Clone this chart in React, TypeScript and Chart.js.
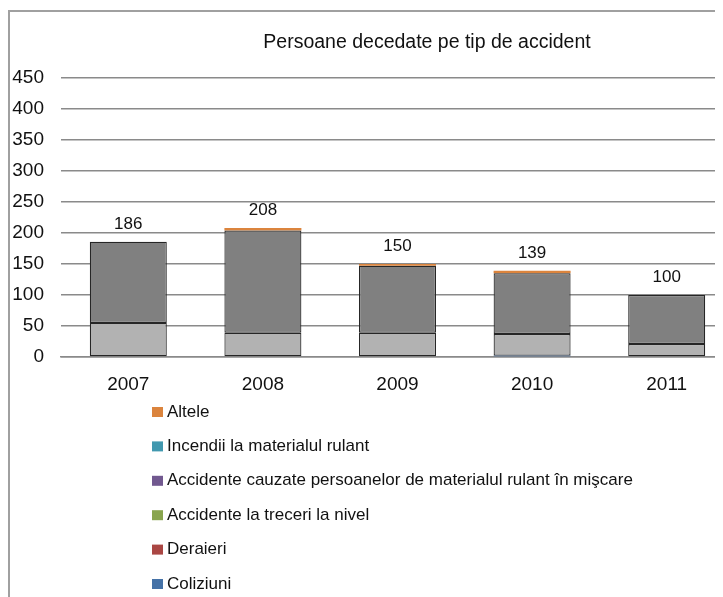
import React, { useEffect, useRef } from "react";
import { Chart, registerables } from "chart.js";

Chart.register(...registerables);

const TITLE = "Persoane decedate pe tip de accident";
const YEARS = ["2007", "2008", "2009", "2010", "2011"];

const SERIES_NAMES = [
  "Coliziuni",
  "Deraieri",
  "Accidente la treceri la nivel",
  "Accidente cauzate persoanelor de materialul rulant în mişcare",
  "Incendii la materialul rulant",
  "Altele",
];

const COLIZIUNI = [0, 0, 0, 2, 0];
const DERAIERI = [0, 0, 0, 0, 0];
const TRECERI = [55, 39, 39, 35, 21];
const PERSOANE = [131, 165, 108, 98, 79];
const INCENDII = [0, 0, 0, 0, 0];
const ALTELE = [0, 4, 3, 4, 0];

const SERIES_VALUES = [COLIZIUNI, DERAIERI, TRECERI, PERSOANE, INCENDII, ALTELE];
const BAR_COLORS = ["#4572A7", "#AA4643", "#b2b2b2", "#808080", "#3D96AE", "#DB843D"];
const LEGEND_COLORS = ["#4572A7", "#AA4643", "#89A54E", "#71588F", "#4198AF", "#DB843D"];
const BORDERED = [false, false, true, true, false, false];

const Y_MIN = 0;
const Y_MAX = 450;
const Y_STEP = 50;

const FONT = "'Liberation Sans', Arial, sans-serif";

export default function App() {
  const ref = useRef<HTMLCanvasElement | null>(null);

  useEffect(() => {
    if (!ref.current) return;

    const titlePlugin = {
      id: "ctitle",
      afterDraw(chart: any) {
        const ctx = chart.ctx;
        ctx.save();
        ctx.font = `19.5px ${FONT}`;
        ctx.fillStyle = "#111";
        ctx.textAlign = "center";
        ctx.textBaseline = "middle";
        ctx.fillText(TITLE, 417, 31);
        ctx.restore();
      },
    };

    const totalsPlugin = {
      id: "totals",
      afterDatasetsDraw(chart: any) {
        const ctx = chart.ctx;
        const xs = chart.scales.x;
        const ys = chart.scales.y;
        ctx.save();
        ctx.font = `17px ${FONT}`;
        ctx.fillStyle = "#111";
        ctx.textAlign = "center";
        ctx.textBaseline = "middle";
        YEARS.forEach((_, i) => {
          let total = 0;
          SERIES_VALUES.forEach((s) => (total += s[i]));
          const x = xs.getPixelForValue(i);
          const y = ys.getPixelForValue(total);
          ctx.fillText(String(total), x, y - 17.5);
        });
        ctx.restore();
      },
    };

    const legendPlugin = {
      id: "vlegend",
      afterDraw(chart: any) {
        const ctx = chart.ctx;
        ctx.save();
        ctx.font = `17px ${FONT}`;
        ctx.textAlign = "left";
        ctx.textBaseline = "middle";
        const top = 400;
        const step = 34.4;
        const order = SERIES_NAMES.map((_, i) => i).reverse();
        order.forEach((idx, k) => {
          const y = top + k * step;
          ctx.fillStyle = LEGEND_COLORS[idx];
          ctx.fillRect(142, y - 5, 11, 10);
          ctx.fillStyle = "#111";
          ctx.fillText(SERIES_NAMES[idx], 157, y);
        });
        ctx.restore();
      },
    };

    const chart = new Chart(ref.current, {
      type: "bar",
      data: {
        labels: YEARS,
        datasets: SERIES_NAMES.map((name, i) => ({
          label: name,
          data: SERIES_VALUES[i],
          backgroundColor: BAR_COLORS[i],
          borderColor: "#262626",
          borderWidth: BORDERED[i] ? 1.2 : 0,
          borderSkipped: false,
          categoryPercentage: 1,
          barPercentage: 0.572,
        })),
      },
      options: {
        responsive: false,
        animation: false,
        devicePixelRatio: 1,
        layout: { padding: { left: 0, right: 106, top: 66, bottom: 200 } },
        plugins: {
          legend: { display: false },
          tooltip: { enabled: false },
          title: { display: false },
        },
        scales: {
          x: {
            stacked: true,
            afterFit(scale: any) {
              scale.height = 40;
            },
            grid: { display: false, drawTicks: false },
            border: { display: true, color: "#8a8a8a", width: 1.5 },
            ticks: {
              color: "#111",
              font: { family: FONT, size: 19 },
              padding: 16.5,
            },
          },
          y: {
            stacked: true,
            min: Y_MIN,
            max: Y_MAX,
            afterFit(scale: any) {
              scale.width = 51;
            },
            grid: { color: "#8a8a8a", lineWidth: 1.5, drawTicks: false },
            border: { display: false },
            ticks: {
              stepSize: Y_STEP,
              color: "#111",
              font: { family: FONT, size: 19 },
              padding: 17,
            },
          },
        },
      },
      plugins: [totalsPlugin, legendPlugin, titlePlugin],
    });

    return () => chart.destroy();
  }, []);

  return (
    <div style={{ width: 715, height: 589, overflow: "hidden" }}>
      <div
        style={{
          marginTop: 2,
          borderTop: "2px solid #a0a0a0",
          borderLeft: "2px solid #a0a0a0",
          width: 840,
          height: 600,
          background: "#fff",
        }}
      >
        <canvas ref={ref} width={830} height={585} style={{ display: "block" }} />
      </div>
    </div>
  );
}
